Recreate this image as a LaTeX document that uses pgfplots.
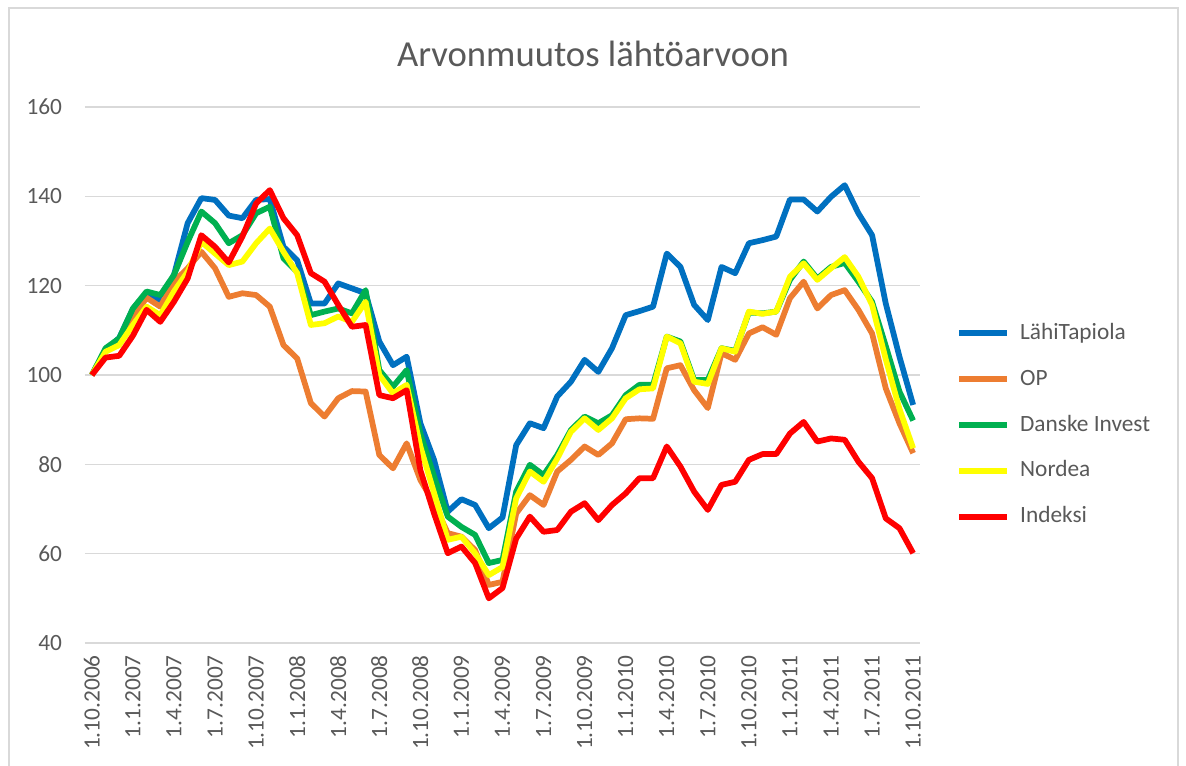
\documentclass[border=0pt]{standalone}
\usepackage{pgfplots}
\pgfplotsset{compat=1.18}
\usepackage{pgfplotstable}
\usepackage{fontspec}
\setmainfont{Carlito}
\definecolor{cLT}{RGB}{0,112,192}
\definecolor{cOP}{RGB}{237,125,49}
\definecolor{cDI}{RGB}{0,176,80}
\definecolor{cNO}{RGB}{255,255,0}
\definecolor{cIX}{RGB}{255,0,0}
\definecolor{txtgray}{RGB}{89,89,89}
\definecolor{gridgray}{RGB}{217,217,217}

% i = months from 1.10.2006
\pgfplotstableread{
i lt op di no ix
0 100.0 100.0 100.0 100.0 100.0
1 105.5 105.5 106.0 105.2 103.9
2 108.3 107.8 108.2 106.7 104.3
3 114.8 113.0 114.9 111.2 108.8
4 118.3 117.3 118.7 115.3 114.6
5 116.5 115.3 117.9 113.4 111.9
6 122.4 120.9 122.4 118.7 116.4
7 134.0 123.9 129.8 123.1 121.6
8 139.6 127.6 136.6 129.8 131.3
9 139.2 123.9 134.0 127.2 128.7
10 135.7 117.5 129.5 124.6 125.2
11 135.1 118.3 131.3 125.4 131.0
12 139.2 117.9 136.2 129.5 138.4
13 139.4 115.3 137.7 132.8 141.4
14 128.7 106.7 126.1 127.6 135.1
15 125.7 103.7 123.1 122.8 131.3
16 116.0 93.7 113.4 111.2 122.8
17 116.0 90.7 114.2 111.6 120.9
18 120.5 94.8 114.9 113.1 115.7
19 119.4 96.4 113.8 111.9 110.8
20 118.3 96.3 119.0 116.4 111.2
21 107.5 82.1 101.1 100.0 95.5
22 102.2 79.1 97.4 95.9 94.8
23 104.1 84.7 101.1 97.8 96.6
24 89.2 76.5 86.9 84.0 78.7
25 81.0 71.3 77.3 73.6 69.0
26 69.4 64.6 68.3 63.1 60.1
27 72.2 63.8 66.0 63.8 61.6
28 70.9 60.8 64.2 60.1 57.9
29 65.7 53.0 57.9 55.2 50.0
30 68.1 53.7 58.6 57.0 52.3
31 84.3 69.0 73.9 72.4 63.4
32 89.2 73.1 79.9 78.4 68.3
33 88.1 70.9 77.6 76.1 64.9
34 95.2 78.4 82.1 81.3 65.3
35 98.5 81.0 87.7 87.3 69.4
36 103.4 84.0 90.7 90.3 71.3
37 100.7 82.1 89.2 87.7 67.5
38 106.0 84.7 91.0 90.3 70.9
39 113.4 90.1 95.5 94.8 73.5
40 114.3 90.3 97.8 96.8 76.9
41 115.3 90.2 97.8 97.0 76.9
42 127.2 101.5 108.6 108.6 84.0
43 124.2 102.2 107.5 107.1 79.5
44 115.7 96.6 98.9 98.5 73.9
45 112.3 92.6 98.9 98.0 69.8
46 124.2 104.9 106.0 106.0 75.4
47 122.8 103.4 105.4 105.2 76.1
48 129.5 109.3 114.0 114.2 81.0
49 130.2 110.7 113.8 113.7 82.3
50 131.0 109.0 114.2 114.2 82.3
51 139.3 117.2 121.3 122.0 86.9
52 139.3 120.9 125.4 125.0 89.5
53 136.6 114.9 121.6 121.3 85.1
54 139.9 117.9 124.2 123.9 85.8
55 142.5 119.0 125.1 126.4 85.5
56 136.2 114.6 120.9 122.0 80.6
57 131.3 109.3 116.4 115.7 76.9
58 116.0 97.0 106.5 103.5 67.9
59 104.1 89.2 96.3 92.4 65.7
60 93.3 82.5 89.8 83.6 60.1
}\data

\begin{document}
\begin{tikzpicture}
\path[use as bounding box] (0,0) rectangle (889.5pt,-573.75pt);
\draw[gridgray, line width=1.1pt] (6.75pt,-580pt) -- (6.75pt,-6pt) -- (883.5pt,-6pt) -- (883.5pt,-580pt);

\node[font=\fontsize{27.5}{33}\selectfont, text=txtgray, anchor=base] at (444.75pt,-49.5pt) {Arvonmuutos lähtöarvoon};

\begin{axis}[
scale only axis,
width=626.25pt,
height=402pt,
at={(63.75pt,-482.25pt)},
anchor=south west,
xmin=-0.5, xmax=60.5,
ymin=40, ymax=160,
xtick={0,3,...,60},
xticklabels={1.10.2006,1.1.2007,1.4.2007,1.7.2007,1.10.2007,1.1.2008,1.4.2008,1.7.2008,1.10.2008,1.1.2009,1.4.2009,1.7.2009,1.10.2009,1.1.2010,1.4.2010,1.7.2010,1.10.2010,1.1.2011,1.4.2011,1.7.2011,1.10.2011},
ytick={40,60,...,160},
ymajorgrids,
grid style={gridgray, line width=1.1pt},
axis line style={draw=none},
major tick length=0pt,
tick label style={font=\fontsize{17.5}{21}\selectfont, text=txtgray},
xticklabel style={rotate=90, anchor=east, inner sep=0pt},
yticklabel style={anchor=east, inner sep=0pt},
xticklabel shift=9pt,
yticklabel shift=17pt,
/pgf/number format/assume math mode=true,
every axis plot/.append style={line width=4.3pt, line join=round},
legend style={at={(rel axis cs:1.0385,0.4067)}, anchor=west, draw=none, fill=none,
  font=\fontsize{17.5}{21}\selectfont, text=txtgray, row sep=18.4pt,
  nodes={inner sep=0pt, text height=12.5pt, text depth=3.5pt},
  /tikz/every odd column/.append style={column sep=7.5pt}},
legend cell align=left,
legend image code/.code={\draw[#1] (0pt,0pt) -- (36pt,0pt);},
]
\addplot[cLT] table[x=i, y=lt] {\data};
\addlegendentry{LähiTapiola}
\addplot[cOP] table[x=i, y=op] {\data};
\addlegendentry{OP}
\addplot[cDI] table[x=i, y=di] {\data};
\addlegendentry{Danske Invest}
\addplot[cNO] table[x=i, y=no] {\data};
\addlegendentry{Nordea}
\addplot[cIX] table[x=i, y=ix] {\data};
\addlegendentry{Indeksi}
\end{axis}
\end{tikzpicture}
\end{document}
